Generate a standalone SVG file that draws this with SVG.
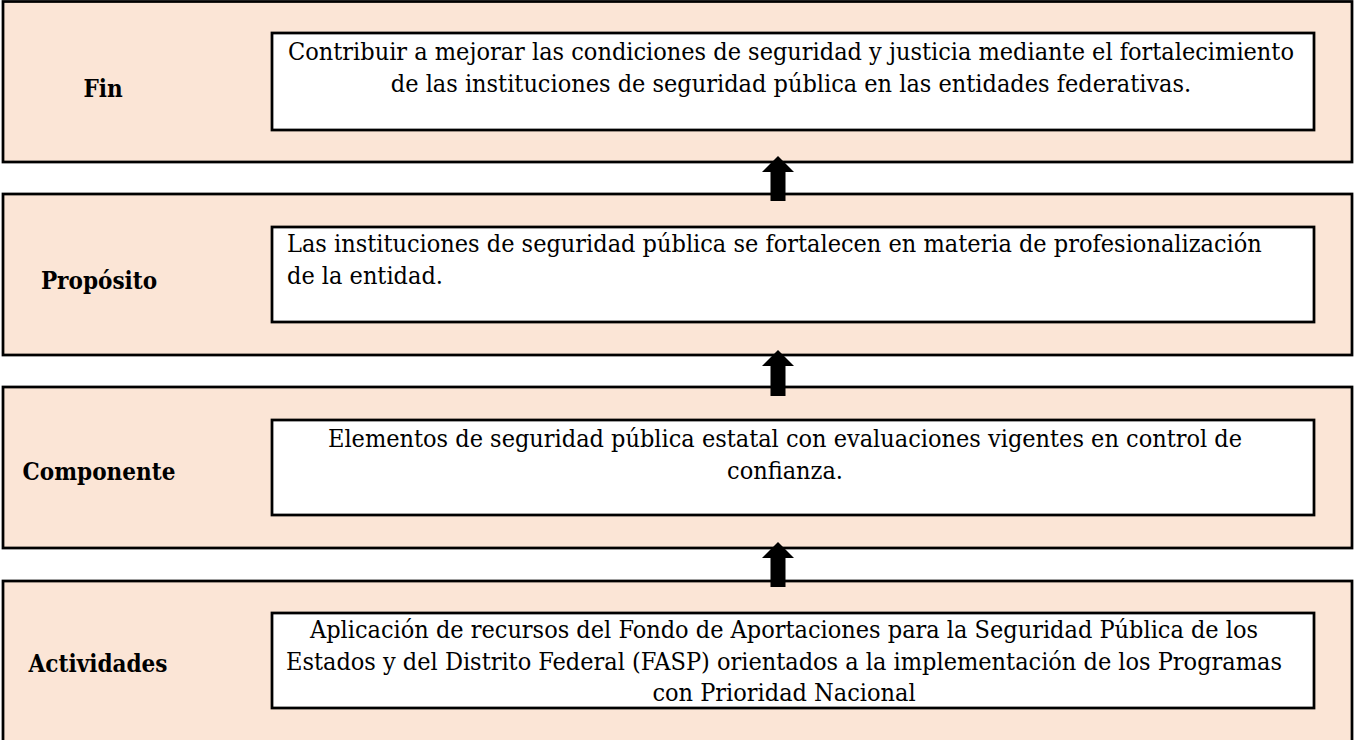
<svg xmlns="http://www.w3.org/2000/svg" width="1354" height="740" viewBox="0 0 1354 740">
<style>
.outer{fill:#FBE5D6;stroke:#000;stroke-width:2.75}
.inner{fill:#fff;stroke:#000;stroke-width:2.75}
.lbl{font-family:"DejaVu Serif",serif;font-stretch:condensed;font-weight:bold;font-size:24px;fill:#000;text-anchor:middle}
.txt{font-family:"DejaVu Serif",serif;font-stretch:condensed;font-size:25px;fill:#000}
.c{text-anchor:middle}
.arrow{fill:#000}
</style>
<rect x="0" y="0" width="1354" height="740" fill="#fff"/>
<g id="fin">
<rect class="outer" x="3" y="1.5" width="1349" height="160.5"/>
<rect class="inner" x="272" y="33" width="1042" height="97"/>
<text class="lbl" x="103" y="97">Fin</text>
<text class="txt c" x="791" y="60">Contribuir a mejorar las condiciones de seguridad y justicia mediante el fortalecimiento</text>
<text class="txt c" x="791" y="92">de las instituciones de seguridad pública en las entidades federativas.</text>
</g>
<g id="proposito">
<rect class="outer" x="3" y="194" width="1349" height="161"/>
<rect class="inner" x="272" y="227" width="1042" height="95"/>
<text class="lbl" x="99" y="289">Propósito</text>
<text class="txt" x="287" y="252">Las instituciones de seguridad pública se fortalecen en materia de profesionalización</text>
<text class="txt" x="287" y="284">de la entidad.</text>
</g>
<g id="componente">
<rect class="outer" x="3" y="387" width="1349" height="161"/>
<rect class="inner" x="272" y="420" width="1042" height="95"/>
<text class="lbl" x="99" y="480">Componente</text>
<text class="txt c" x="785" y="447">Elementos de seguridad pública estatal con evaluaciones vigentes en control de</text>
<text class="txt c" x="785" y="479">confianza.</text>
</g>
<g id="actividades">
<rect class="outer" x="3" y="581" width="1349" height="162"/>
<rect class="inner" x="272" y="613" width="1042" height="95"/>
<text class="lbl" x="98" y="672">Actividades</text>
<text class="txt c" x="784" y="638">Aplicación de recursos del Fondo de Aportaciones para la Seguridad Pública de los</text>
<text class="txt c" x="784" y="670">Estados y del Distrito Federal (FASP) orientados a la implementación de los Programas</text>
<text class="txt c" x="784" y="701">con Prioridad Nacional</text>
</g>
<g id="connectors">
<path class="arrow" d="M778 156 L794 172 L785.5 172 L785.5 201 L770.5 201 L770.5 172 L762 172 Z"/>
<path class="arrow" d="M778 350 L794 366 L785.5 366 L785.5 396 L770.5 396 L770.5 366 L762 366 Z"/>
<path class="arrow" d="M778 542 L794 558 L785.5 558 L785.5 587 L770.5 587 L770.5 558 L762 558 Z"/>
</g>
</svg>
